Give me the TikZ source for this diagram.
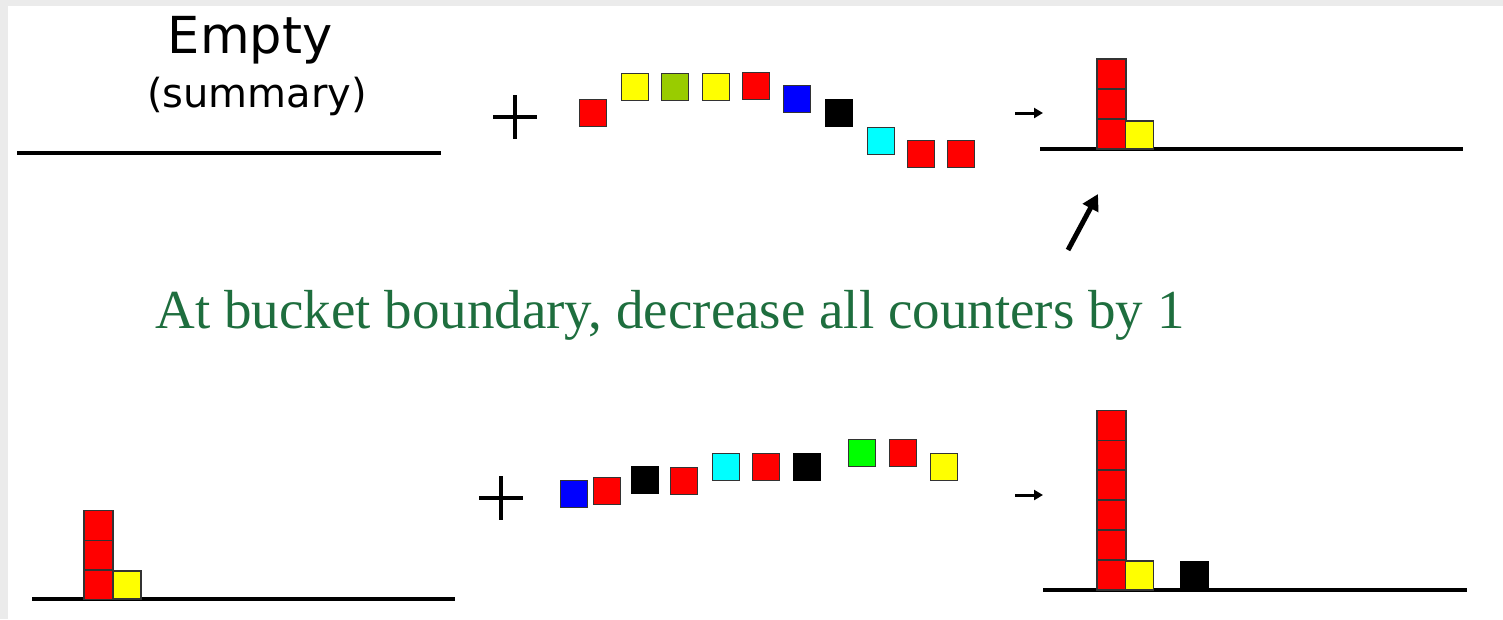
\documentclass[tikz,border=0pt]{standalone}
\usepackage{fontspec}
\usepackage{graphicx}
\setmainfont{Liberation Serif}
\newfontfamily\verdanalike{DejaVu Sans}
\usetikzlibrary{arrows.meta}
\definecolor{framegrey}{HTML}{EBEBEB}
\definecolor{sqred}{HTML}{FF0000}
\definecolor{sqyellow}{HTML}{FFFF00}
\definecolor{sqolive}{HTML}{99CC00}
\definecolor{sqblue}{HTML}{0000FF}
\definecolor{sqcyan}{HTML}{00FFFF}
\definecolor{sqgreen}{HTML}{00FF00}
\definecolor{notegreen}{HTML}{1E6E3E}
\definecolor{edge}{HTML}{333333}
\tikzset{
  sq/.style={draw=edge, line width=1.2pt, inner sep=0pt, minimum width=27pt, minimum height=27pt},
  stk/.style={draw=edge, line width=1.2pt, inner sep=0pt, minimum width=29pt, minimum height=30pt},
  base line/.style={line width=4pt, black},
  plus/.style={line width=4.5pt, black},
  bigarrow/.style={line width=5pt, -{Triangle[width=17pt,length=16pt]}},
  smallarrow/.style={line width=3pt, -{Triangle[width=10pt,length=9pt]}}
}
\begin{document}
\begin{tikzpicture}[x=1pt,y=-1pt]
\useasboundingbox (0,0) rectangle (1503,619);
\fill[white] (0,0) rectangle (1503,619);
\fill[framegrey] (0,0) rectangle (1503,6);
\fill[framegrey] (0,0) rectangle (8,619);

% ---------- top row ----------
\node[anchor=base, inner sep=0pt, font=\verdanalike\fontsize{51}{58}\selectfont] (empty) at (250,53) {Empty};
\node[anchor=base, inner sep=0pt, font=\verdanalike\fontsize{40}{46}\selectfont] (summary) at (257,107) {(summary)};
\draw[base line] (17,153) -- (441,153);

\draw[plus] (493,117) -- (537,117);
\draw[plus] (515,95) -- (515,139);

\node[sq, fill=sqred]    (t1)  at (593,113) {};
\node[sq, fill=sqyellow] (t2)  at (635,87) {};
\node[sq, fill=sqolive]  (t3)  at (675,87) {};
\node[sq, fill=sqyellow] (t4)  at (716,87) {};
\node[sq, fill=sqred]    (t5)  at (756,86) {};
\node[sq, fill=sqblue]   (t6)  at (797,99) {};
\node[sq, fill=black, draw=black] (t7) at (839,113) {};
\node[sq, fill=sqcyan]   (t8)  at (881,141) {};
\node[sq, fill=sqred]    (t9)  at (921,154) {};
\node[sq, fill=sqred]    (t10) at (961,154) {};

\coordinate (sa1) at (1015,113);
\coordinate (sa1tip) at (1043,113);
\draw[smallarrow] (sa1) -- (sa1tip);

\draw[base line] (1040,149) -- (1463,149);
\node[stk, fill=sqred] (r1) at (1111.5,134) {};
\node[stk, fill=sqred] (r2) at (1111.5,104) {};
\node[stk, fill=sqred] (r3) at (1111.5,74) {};
\node[sq, minimum width=28pt, minimum height=28pt, fill=sqyellow] (ry) at (1139.5,135) {};

\coordinate (ba) at (1068,250);
\coordinate (batip) at (1098,194);
\draw[bigarrow] (ba) -- (batip);

% ---------- note ----------
\node[anchor=base, inner sep=0pt, text=notegreen, font=\fontsize{55}{62}\selectfont] (note) at (670,328) {At bucket boundary, decrease all counters by 1};

% ---------- bottom row ----------
\draw[base line] (32,599) -- (455,599);
\node[stk, fill=sqred] (b1) at (98.5,584.5) {};
\node[stk, fill=sqred] (b2) at (98.5,555) {};
\node[stk, fill=sqred] (b3) at (98.5,525.5) {};
\node[sq, minimum width=28pt, minimum height=28pt, fill=sqyellow] (by) at (127,585) {};

\draw[plus] (479,498) -- (523,498);
\draw[plus] (501,476) -- (501,520);

\node[sq, fill=sqblue]   (u1)  at (574,494) {};
\node[sq, fill=sqred]    (u2)  at (607,491) {};
\node[sq, fill=black, draw=black] (u3) at (645,480) {};
\node[sq, fill=sqred]    (u4)  at (684,481) {};
\node[sq, fill=sqcyan]   (u5)  at (726,467) {};
\node[sq, fill=sqred]    (u6)  at (766,467) {};
\node[sq, fill=black, draw=black] (u7) at (807,467) {};
\node[sq, fill=sqgreen]  (u8)  at (862,453) {};
\node[sq, fill=sqred]    (u9)  at (903,453) {};
\node[sq, fill=sqyellow] (u10) at (944,467) {};

\coordinate (sa2) at (1015,495);
\coordinate (sa2tip) at (1043,495);
\draw[smallarrow] (sa2) -- (sa2tip);

\draw[base line] (1043,590) -- (1467,590);
\node[stk, fill=sqred] (s1) at (1111.5,575) {};
\node[stk, fill=sqred] (s2) at (1111.5,545) {};
\node[stk, fill=sqred] (s3) at (1111.5,515) {};
\node[stk, fill=sqred] (s4) at (1111.5,485) {};
\node[stk, fill=sqred] (s5) at (1111.5,455) {};
\node[stk, fill=sqred] (s6) at (1111.5,425.5) {};
\node[sq, minimum width=28pt, minimum height=29pt, fill=sqyellow] (sy) at (1139.5,575.5) {};
\node[sq, minimum width=27pt, minimum height=28pt, fill=black, draw=black] (sk) at (1194.5,576) {};
\end{tikzpicture}
\end{document}
